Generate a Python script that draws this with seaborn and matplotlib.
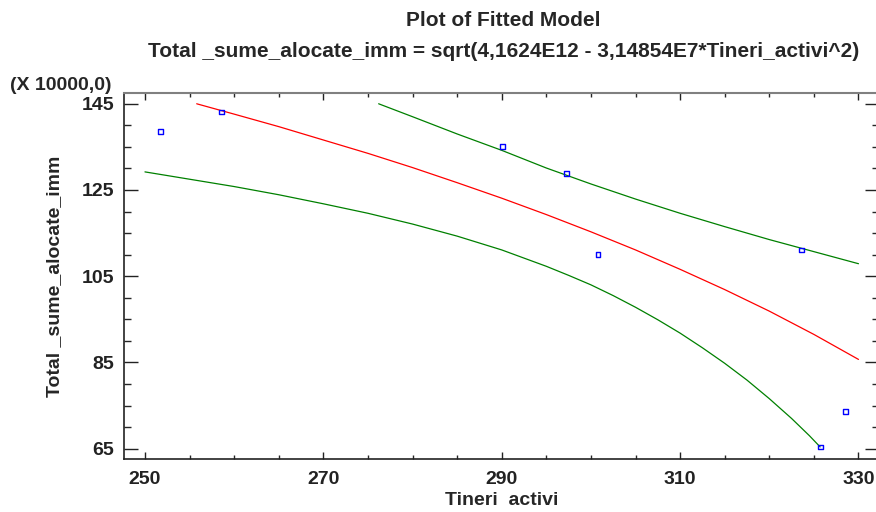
import numpy as np
import pandas as pd
import seaborn as sns
import matplotlib.pyplot as plt
from matplotlib.ticker import MultipleLocator

# observed points (values in units of 10000)
pts_x = [251.7, 258.6, 290.1, 297.3, 300.8, 323.6, 325.7, 328.5]
pts_y = [138.5, 143.1, 135.0, 128.8, 110.1, 111.1, 65.4, 73.7]

# fitted model line
fit_x = [255.8, 260, 265, 270, 275, 280, 285, 290, 295, 300, 305, 310, 315, 320, 325, 330]
fit_y = [145.0, 142.6, 139.7, 136.6, 133.5, 130.2, 126.7, 123.1, 119.3, 115.3, 111.1, 106.6, 101.9, 96.9, 91.5, 85.7]

# upper / lower prediction limits
upper_x = [276.2, 280, 285, 290, 295, 300, 305, 310, 315, 320, 325, 330]
upper_y = [145.0, 142.0, 138.0, 134.2, 130.1, 126.4, 122.9, 119.6, 116.5, 113.5, 110.7, 107.9]
lower_x = [250, 255, 260, 265, 270, 275, 280, 285, 290, 295, 297.5, 300, 302.5, 305,
           307.5, 310, 312.5, 315, 317.5, 320, 322.5, 324.5, 325.7]
lower_y = [129.2, 127.5, 125.8, 123.9, 121.8, 119.6, 117.1, 114.3, 111.1, 107.3, 105.2, 103.0, 100.5, 97.8,
           94.9, 91.8, 88.4, 84.8, 80.9, 76.6, 72.0, 68.0, 65.4]

title1 = "Plot of Fitted Model"
title2 = "Total _sume_alocate_imm = sqrt(4,1624E12 - 3,14854E7*Tineri_activi^2)"
xlab = "Tineri  activi"
ylab = "Total _sume_alocate_imm"
scale_note = "(X 10000,0)"

sns.set_style("white")
plt.rcParams['font.family'] = ['Liberation Sans', 'DejaVu Sans']
plt.rcParams['font.weight'] = 'bold'

fig = plt.figure(figsize=(8.76, 5.12), dpi=100)
ax = fig.add_axes([124 / 876, 53 / 512, 755 / 876, 366 / 512])

pts = pd.DataFrame({"x": pts_x, "y": pts_y})
fit = pd.DataFrame({"x": fit_x, "y": fit_y})
up = pd.DataFrame({"x": upper_x, "y": upper_y})
lo = pd.DataFrame({"x": lower_x, "y": lower_y})

sns.lineplot(data=lo, x="x", y="y", ax=ax, color="#008000", lw=0.9, sort=False, estimator=None)
sns.lineplot(data=up, x="x", y="y", ax=ax, color="#008000", lw=0.9, sort=False, estimator=None)
sns.lineplot(data=fit, x="x", y="y", ax=ax, color="#ff0000", lw=0.9, sort=False, estimator=None)
sns.scatterplot(data=pts, x="x", y="y", ax=ax, marker="s", s=12, facecolor="none",
                edgecolor="#0000ff", linewidth=1.0, zorder=5)

ax.set_xlim(247.65, 332.3)
ax.set_ylim(62.6, 147.5)
ax.xaxis.set_minor_locator(MultipleLocator(5))
ax.yaxis.set_minor_locator(MultipleLocator(5))
ax.set_xticks(np.arange(250, 331, 20))
ax.set_yticks(np.arange(65, 146, 20))

ax.tick_params(axis="x", which="major", direction="in", length=5, width=1, top=True, bottom=True,
               labelsize=14, pad=9, colors="#222222")
ax.tick_params(axis="x", which="minor", direction="in", length=3, width=1, top=True, bottom=True)
ax.tick_params(axis="y", which="major", direction="in", length=10, width=1, left=True, right=True,
               labelsize=14, pad=7, colors="#222222")
ax.tick_params(axis="y", which="minor", direction="in", length=5, width=1, left=True, right=True)
for lab in ax.get_xticklabels() + ax.get_yticklabels():
    lab.set_fontweight("bold")

for side in ["left", "bottom"]:
    ax.spines[side].set_color("#222222")
    ax.spines[side].set_linewidth(1.2)
ax.spines["top"].set_color("#808080")
ax.spines["top"].set_linewidth(1.5)
ax.spines["right"].set_color("#808080")

ax.set_xlabel(xlab, fontsize=14, fontweight="bold", va="center")
ax.set_ylabel(ylab, fontsize=14, fontweight="bold", va="center")
ax.xaxis.set_label_coords(0.5, -0.113)
ax.yaxis.set_label_coords(-0.092, 0.5)

fig.text(0.575, 0.960, title1, ha="center", va="center", fontsize=15, fontweight="bold")
fig.text(0.575, 0.900, title2, ha="center", va="center", fontsize=15, fontweight="bold")
fig.text(10 / 876, 1 - 85 / 512, scale_note, ha="left", va="center", fontsize=14, fontweight="bold")

fig.savefig("out.png", dpi=100)
